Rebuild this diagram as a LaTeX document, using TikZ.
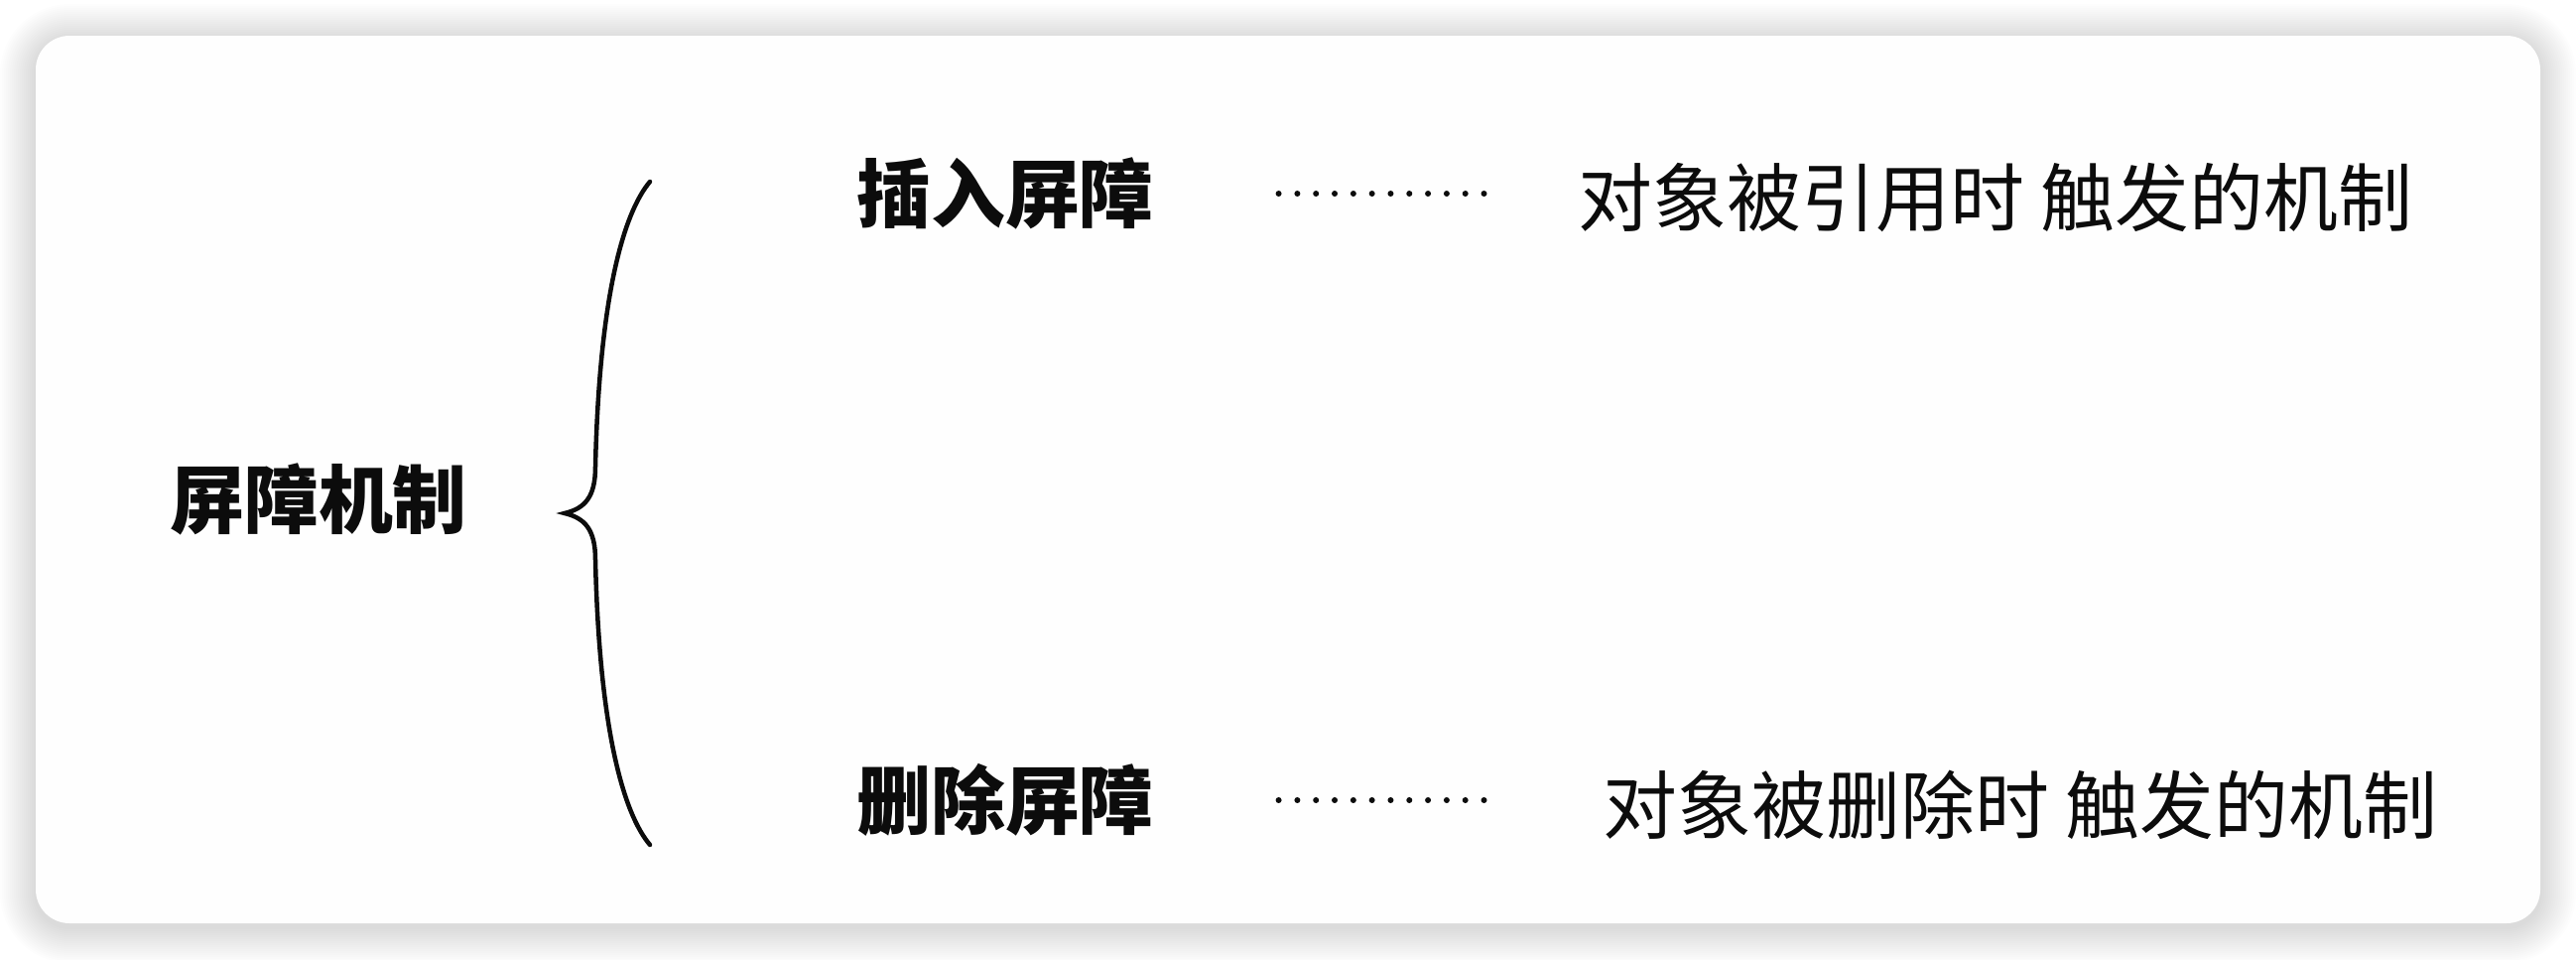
\documentclass[tikz,border=0pt]{standalone}
\usepackage{fontspec}
\newfontfamily\cjk{Noto Sans CJK SC}
\usetikzlibrary{positioning}
\definecolor{cardwhite}{RGB}{254,254,254}
\definecolor{inkblack}{RGB}{12,12,12}
\tikzset{
  card/.style={rounded corners=0.34cm, fill=cardwhite},
  rootnode/.style={inner sep=0pt, text=inkblack,
    font=\cjk\bfseries\fontsize{21.3pt}{24pt}\selectfont},
  branch/.style={inner sep=0pt, text=inkblack,
    font=\cjk\bfseries\fontsize{21.3pt}{24pt}\selectfont},
  leaf/.style={inner sep=0pt, anchor=west, text=inkblack,
    font=\cjk\fontsize{21.3pt}{24pt}\selectfont},
  brace/.style={draw=inkblack, line width=0.045cm, line cap=round},
  leader/.style={draw=inkblack, line width=0.06cm, line cap=round,
    dash pattern=on 0cm off 0.188cm, shorten <=1.25cm}
}
\begin{document}
\begin{tikzpicture}[x=0.01cm, y=-0.01cm]
\useasboundingbox[fill=white] (0,0) rectangle (2596,966);
% card with soft shadow
\foreach \i [evaluate=\i as \r using 0.34+0.02*\i] in {1,...,18}
  \fill[black, opacity=0.008, rounded corners=\r cm]
    ({36-2*\i},{40-2*\i}) rectangle ({2560+2*\i},{934+2*\i});
\fill[card] (36,36) rectangle (2560,930);

\node (root)    [rootnode] at (321,503)  {屏障机制};
\node (ins)     [branch]   at (1013,195) {插入屏障};
\node (del)     [branch]   at (1013,806) {删除屏障};
\node (insdesc) [leaf]     at (1590,199) {对象被引用时 触发的机制};
\node (deldesc) [leaf]     at (1615,811) {对象被删除时 触发的机制};

% brace
\coordinate (bt) at (655,183);
\coordinate (bm) at (569,517);
\coordinate (bb) at (655,851);
\draw[brace] (bt) .. controls (628,215) and (604,300) .. (600,470)
  .. controls (600,500) and (590,512) .. (bm)
  .. controls (590,522) and (600,534) .. (600,564)
  .. controls (604,734) and (628,819) .. (bb);

% dotted leaders
\draw[leader, shorten >=0.93cm] (ins.east) -- (ins.east -| insdesc.west);
\draw[leader, shorten >=1.18cm] (del.east) -- (del.east -| deldesc.west);
\end{tikzpicture}
\end{document}
